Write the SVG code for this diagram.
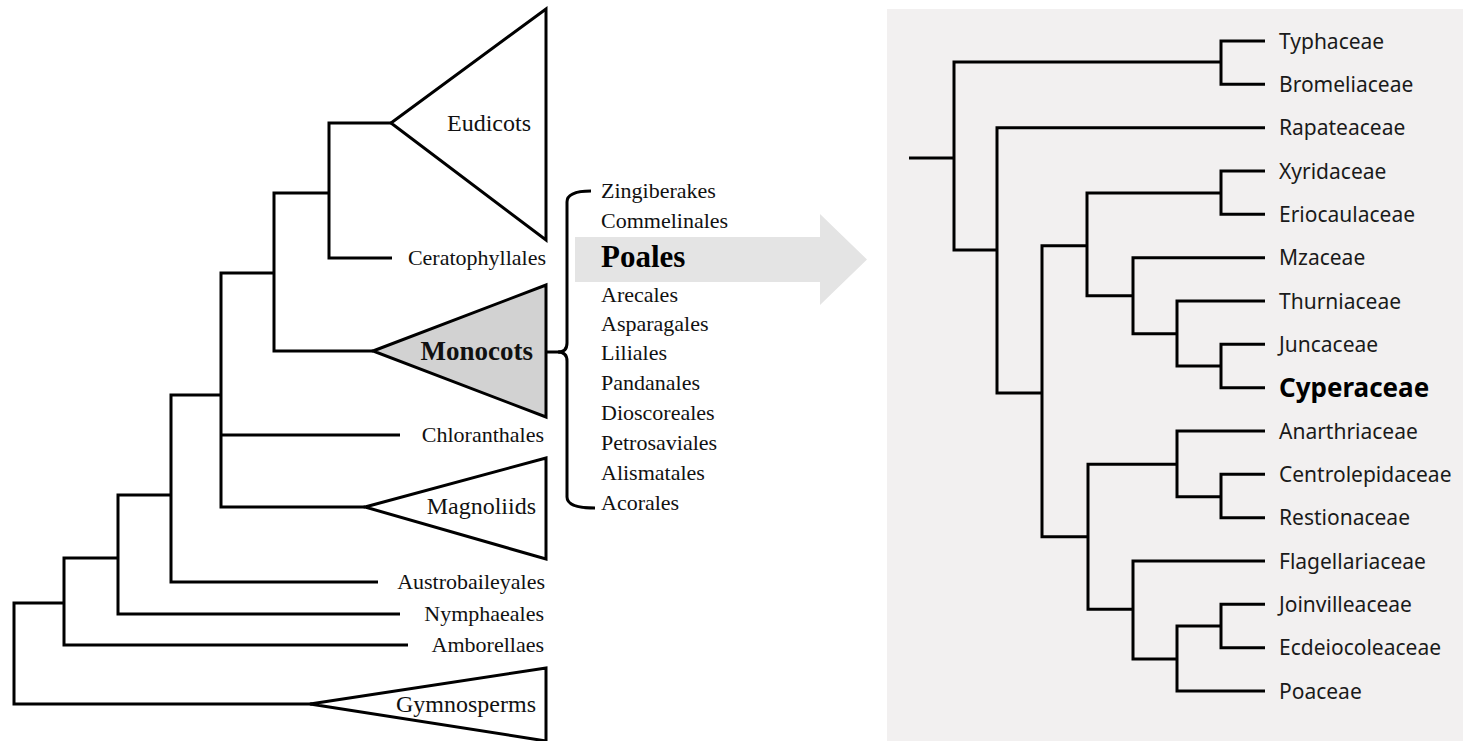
<svg xmlns="http://www.w3.org/2000/svg" width="1463" height="741" viewBox="0 0 1463 741">
<style>
.br{fill:none;stroke:#000;stroke-width:3;stroke-linejoin:miter}
.tri{fill:#fff;stroke:#000;stroke-width:3;stroke-linejoin:miter}
.tri.mono{fill:#d2d2d2}
.s{font-family:"Liberation Serif","Times New Roman",serif;font-size:22px;fill:#111}
.sl{font-family:"Liberation Serif","Times New Roman",serif;font-size:24px;fill:#111}
.end{text-anchor:end}
.r{font-family:"Noto Sans","Open Sans",sans-serif;font-size:21px;fill:#1a1a1a}
</style>
<rect x="0" y="0" width="1463" height="741" fill="#fff"/>
<rect x="887" y="9" width="576" height="732" fill="#f2f0f0"/>

<g id="arrow">
<polygon points="575,237 820,237 820,214 867,259.5 820,305 820,282 575,282" fill="#e4e4e4"/>
</g>

<g id="connectors">
<path class="br" d="M64 603 H14 V704 H312"/>
<path class="br" d="M118 558 H64 V645 H408"/>
<path class="br" d="M171 495 H118 V614 H400"/>
<path class="br" d="M221 395 H171 V582 H378"/>
<path class="br" d="M274 273 H221 V507 H365 M221 435 H400"/>
<path class="br" d="M329 193 H274 V351 H373"/>
<path class="br" d="M391 123 H329 V258 H392"/>
<path class="br" d="M533 352 H560"/>
<path class="br" d="M591 191 Q567 191 567 202 V343 Q567 352 558 352 Q567 352 567 361 V497 Q567 508 595 508"/>

<path class="br" d="M909 158 H954"/>
<path class="br" d="M1221 62 H954 V250 H997"/>
<path class="br" d="M1265 41 H1221 V84.3 H1265"/>
<path class="br" d="M1265 127.7 H997 V393 H1042"/>
<path class="br" d="M1087 245.7 H1042 V536.7 H1088"/>
<path class="br" d="M1221 193 H1087 V295.7 H1133"/>
<path class="br" d="M1265 171 H1221 V214.3 H1265"/>
<path class="br" d="M1265 257.7 H1133 V333.7 H1177"/>
<path class="br" d="M1265 301 H1177 V366 H1221"/>
<path class="br" d="M1265 344.3 H1221 V387.7 H1265"/>
<path class="br" d="M1177 464.3 H1088 V609.3 H1133"/>
<path class="br" d="M1265 431 H1177 V496.7 H1221"/>
<path class="br" d="M1265 474.3 H1221 V517.7 H1265"/>
<path class="br" d="M1265 561 H1133 V659 H1177"/>
<path class="br" d="M1221 626 H1177 V691 H1265"/>
<path class="br" d="M1265 604.3 H1221 V647.7 H1265"/>
</g>

<g id="eudicots"><polygon class="tri" points="391,123 546,9 546,240"/><text class="sl end" x="531" y="131">Eudicots</text></g>
<g id="ceratophyllales"><text class="s end" x="546" y="265">Ceratophyllales</text></g>
<g id="monocots"><polygon class="tri mono" points="373,351 546,285 546,417"/><text class="end" x="533" y="360" font-family="Liberation Serif, Times New Roman, serif" font-size="27" font-weight="bold" fill="#111">Monocots</text></g>
<g id="chloranthales"><text class="s end" x="544" y="442">Chloranthales</text></g>
<g id="magnoliids"><polygon class="tri" points="365,507 546,458 546,559"/><text class="sl end" x="536" y="514">Magnoliids</text></g>
<g id="austrobaileyales"><text class="s end" x="545" y="589">Austrobaileyales</text></g>
<g id="nymphaeales"><text class="s end" x="544" y="621">Nymphaeales</text></g>
<g id="amborellaes"><text class="s end" x="544" y="652">Amborellaes</text></g>
<g id="gymnosperms"><polygon class="tri" points="310,704 546,668 546,741"/><text class="sl end" x="536" y="712">Gymnosperms</text></g>

<g id="monocot-orders">
<text class="s" x="601" y="198">Zingiberakes</text>
<text class="s" x="601" y="228">Commelinales</text>
<text x="601" y="267" font-family="Liberation Serif, Times New Roman, serif" font-size="31" font-weight="bold" fill="#000">Poales</text>
<text class="s" x="601" y="302">Arecales</text>
<text class="s" x="601" y="331">Asparagales</text>
<text class="s" x="601" y="360">Liliales</text>
<text class="s" x="601" y="390">Pandanales</text>
<text class="s" x="601" y="420">Dioscoreales</text>
<text class="s" x="601" y="450">Petrosaviales</text>
<text class="s" x="601" y="480">Alismatales</text>
<text class="s" x="601" y="510">Acorales</text>
</g>

<g id="typhaceae"><text class="r" x="1279" y="48.5">Typhaceae</text></g>
<g id="bromeliaceae"><text class="r" x="1279" y="91.8">Bromeliaceae</text></g>
<g id="rapateaceae"><text class="r" x="1279" y="135.2">Rapateaceae</text></g>
<g id="xyridaceae"><text class="r" x="1279" y="178.5">Xyridaceae</text></g>
<g id="eriocaulaceae"><text class="r" x="1279" y="221.8">Eriocaulaceae</text></g>
<g id="mzaceae"><text class="r" x="1279" y="265.2">Mzaceae</text></g>
<g id="thurniaceae"><text class="r" x="1279" y="308.5">Thurniaceae</text></g>
<g id="juncaceae"><text class="r" x="1279" y="351.8">Juncaceae</text></g>
<g id="cyperaceae"><text x="1279" y="397" font-family="Noto Sans, Open Sans, sans-serif" font-size="26" font-weight="bold" fill="#000">Cyperaceae</text></g>
<g id="anarthriaceae"><text class="r" x="1279" y="438.5">Anarthriaceae</text></g>
<g id="centrolepidaceae"><text class="r" x="1279" y="481.8">Centrolepidaceae</text></g>
<g id="restionaceae"><text class="r" x="1279" y="525.2">Restionaceae</text></g>
<g id="flagellariaceae"><text class="r" x="1279" y="568.5">Flagellariaceae</text></g>
<g id="joinvilleaceae"><text class="r" x="1279" y="611.8">Joinvilleaceae</text></g>
<g id="ecdeiocoleaceae"><text class="r" x="1279" y="655.2">Ecdeiocoleaceae</text></g>
<g id="poaceae"><text class="r" x="1279" y="698.5">Poaceae</text></g>
</svg>
